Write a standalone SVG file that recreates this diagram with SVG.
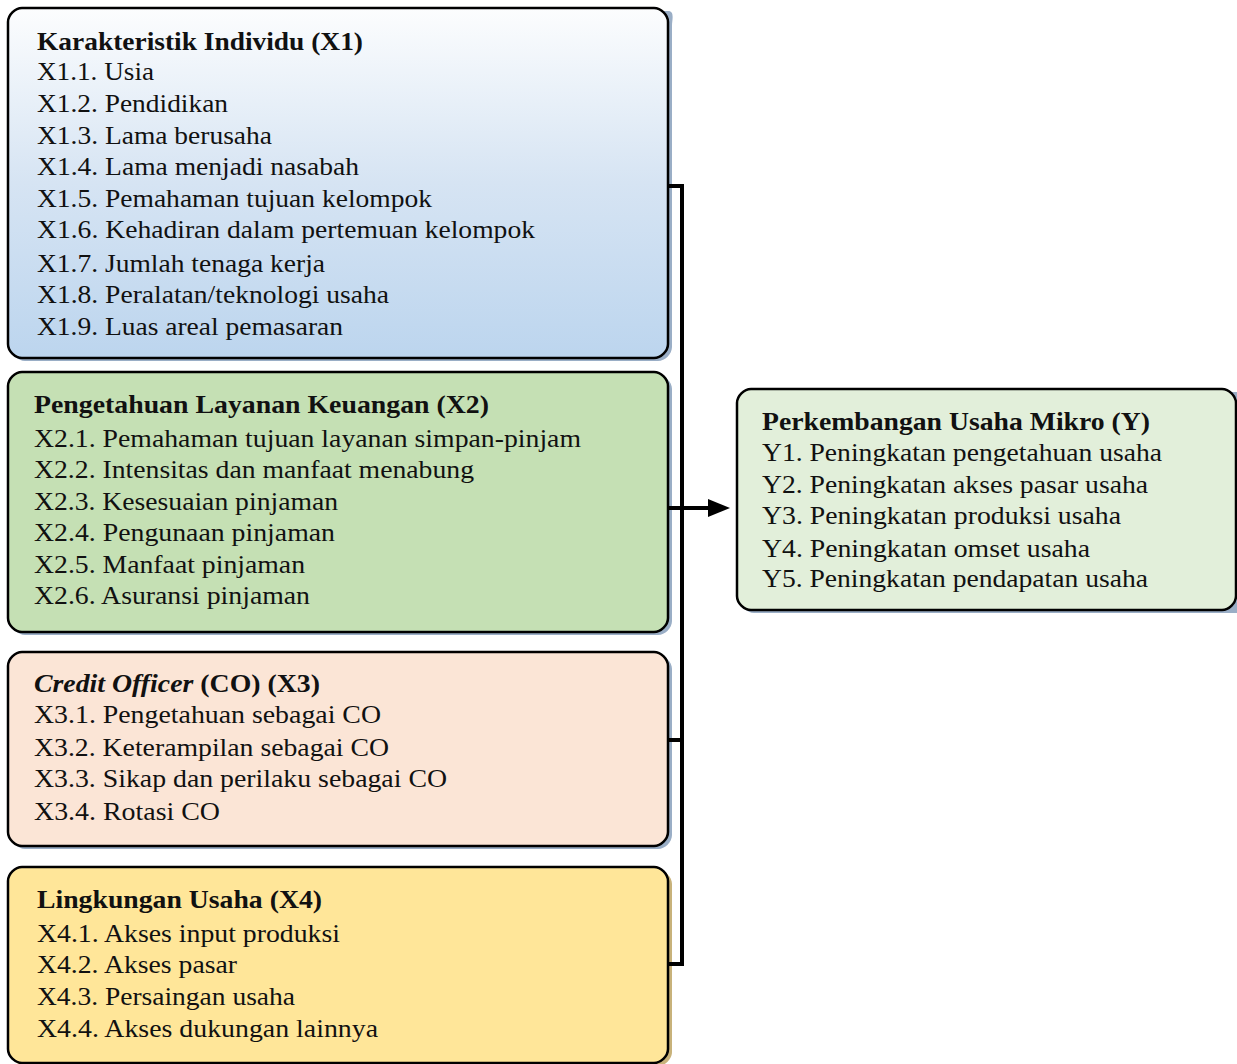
<svg xmlns="http://www.w3.org/2000/svg" width="1237" height="1064" viewBox="0 0 1237 1064">
<style>
.box{stroke:#000;stroke-width:2.5}
.sh{fill:#9aaec6}
.sh4{fill:#c8b27a}
text{font-family:'Liberation Serif','Times New Roman',Times,serif;font-size:25px;fill:#111}
.h{font-weight:bold}
.conn{stroke:#000;stroke-width:4;fill:none}
</style>
<defs>
<linearGradient id="g1" x1="0" y1="0" x2="0" y2="1">
<stop offset="0" stop-color="#fcfdfe"/>
<stop offset="0.5" stop-color="#d6e4f3"/>
<stop offset="1" stop-color="#bcd5ee"/>
</linearGradient>
</defs>
<rect width="1237" height="1064" fill="#fff"/>

<g id="node-x1" font-family="Liberation Serif, serif">
<path class="sh" d="M25,11 L668,11 C675,11 672,20 672,26 L672,347 C672,354 665,361 658,361 L25,361 C18,361 11,354 11,347 L11,26 C11,18 18,11 25,11 Z"/>
<path class="box" fill="url(#g1)" d="M22,8 L654,8 C661,8 668,15 668,22 L668,344 C668,351 661,358 654,358 L22,358 C15,358 8,351 8,344 L8,22 C8,15 15,8 22,8 Z"/>
<text class="h" x="37" y="50" textLength="326" lengthAdjust="spacingAndGlyphs">Karakteristik Individu (X1)</text>
<text x="37" y="80" textLength="117" lengthAdjust="spacingAndGlyphs">X1.1. Usia</text>
<text x="37" y="112" textLength="191" lengthAdjust="spacingAndGlyphs">X1.2. Pendidikan</text>
<text x="37" y="144" textLength="235" lengthAdjust="spacingAndGlyphs">X1.3. Lama berusaha</text>
<text x="37" y="175" textLength="322" lengthAdjust="spacingAndGlyphs">X1.4. Lama menjadi nasabah</text>
<text x="37" y="207" textLength="395" lengthAdjust="spacingAndGlyphs">X1.5. Pemahaman tujuan kelompok</text>
<text x="37" y="238" textLength="498" lengthAdjust="spacingAndGlyphs">X1.6. Kehadiran dalam pertemuan kelompok</text>
<text x="37" y="272" textLength="288" lengthAdjust="spacingAndGlyphs">X1.7. Jumlah tenaga kerja</text>
<text x="37" y="303" textLength="352" lengthAdjust="spacingAndGlyphs">X1.8. Peralatan/teknologi usaha</text>
<text x="37" y="335" textLength="306" lengthAdjust="spacingAndGlyphs">X1.9. Luas areal pemasaran</text>
</g>

<g id="node-x2">
<path class="sh" d="M25,375 L658,375 C665,375 672,382 672,389 L672,621 C672,628 665,635 658,635 L25,635 C18,635 11,628 11,621 L11,389 C11,382 18,375 25,375 Z"/>
<path class="box" fill="#c5e0b4" d="M22,372 L654,372 C661,372 668,379 668,386 L668,618 C668,625 661,632 654,632 L22,632 C15,632 8,625 8,618 L8,386 C8,379 15,372 22,372 Z"/>
<text class="h" x="34" y="413" textLength="455" lengthAdjust="spacingAndGlyphs">Pengetahuan Layanan Keuangan (X2)</text>
<text x="34" y="447" textLength="547" lengthAdjust="spacingAndGlyphs">X2.1. Pemahaman tujuan layanan simpan-pinjam</text>
<text x="34" y="478" textLength="440" lengthAdjust="spacingAndGlyphs">X2.2. Intensitas dan manfaat menabung</text>
<text x="34" y="510" textLength="304" lengthAdjust="spacingAndGlyphs">X2.3. Kesesuaian pinjaman</text>
<text x="34" y="541" textLength="301" lengthAdjust="spacingAndGlyphs">X2.4. Pengunaan pinjaman</text>
<text x="34" y="573" textLength="271" lengthAdjust="spacingAndGlyphs">X2.5. Manfaat pinjaman</text>
<text x="34" y="604" textLength="276" lengthAdjust="spacingAndGlyphs">X2.6. Asuransi pinjaman</text>
</g>

<g id="node-x3">
<path class="sh" d="M25,655 L658,655 C665,655 672,662 672,669 L672,835 C672,842 665,849 658,849 L25,849 C18,849 11,842 11,835 L11,669 C11,662 18,655 25,655 Z"/>
<path class="box" fill="#fbe5d6" d="M22,652 L654,652 C661,652 668,659 668,666 L668,832 C668,839 661,846 654,846 L22,846 C15,846 8,839 8,832 L8,666 C8,659 15,652 22,652 Z"/>
<text class="h" x="34" y="692" textLength="286" lengthAdjust="spacingAndGlyphs"><tspan font-style="italic">Credit Officer</tspan> (CO) (X3)</text>
<text x="34" y="723" textLength="347" lengthAdjust="spacingAndGlyphs">X3.1. Pengetahuan sebagai CO</text>
<text x="34" y="756" textLength="355" lengthAdjust="spacingAndGlyphs">X3.2. Keterampilan sebagai CO</text>
<text x="34" y="787" textLength="413" lengthAdjust="spacingAndGlyphs">X3.3. Sikap dan perilaku sebagai CO</text>
<text x="34" y="820" textLength="186" lengthAdjust="spacingAndGlyphs">X3.4. Rotasi CO</text>
</g>

<g id="node-x4">
<path class="sh4" d="M25,870 L658,870 C665,870 672,877 672,884 L672,1052 C672,1059 665,1066 658,1066 L25,1066 C18,1066 11,1059 11,1052 L11,884 C11,877 18,870 25,870 Z"/>
<path class="box" fill="#ffe699" d="M22,867 L654,867 C661,867 668,874 668,881 L668,1049 C668,1056 661,1063 654,1063 L22,1063 C15,1063 8,1056 8,1049 L8,881 C8,874 15,867 22,867 Z"/>
<text class="h" x="37" y="908" textLength="285" lengthAdjust="spacingAndGlyphs">Lingkungan Usaha (X4)</text>
<text x="37" y="942" textLength="303" lengthAdjust="spacingAndGlyphs">X4.1. Akses input produksi</text>
<text x="37" y="973" textLength="200" lengthAdjust="spacingAndGlyphs">X4.2. Akses pasar</text>
<text x="37" y="1005" textLength="258" lengthAdjust="spacingAndGlyphs">X4.3. Persaingan usaha</text>
<text x="37" y="1037" textLength="341" lengthAdjust="spacingAndGlyphs">X4.4. Akses dukungan lainnya</text>
</g>

<g id="node-y">
<path class="sh" d="M754,392 L1240,392 L1240,613 L754,613 C747,613 740,606 740,599 L740,406 C740,399 747,392 754,392 Z"/>
<path class="box" fill="#e2efda" d="M751,389 L1222,389 C1229,389 1236,396 1236,403 L1236,596 C1236,603 1229,610 1222,610 L751,610 C744,610 737,603 737,596 L737,403 C737,396 744,389 751,389 Z"/>
<text class="h" x="762" y="430" textLength="388" lengthAdjust="spacingAndGlyphs">Perkembangan Usaha Mikro (Y)</text>
<text x="762" y="461" textLength="400" lengthAdjust="spacingAndGlyphs">Y1. Peningkatan pengetahuan usaha</text>
<text x="762" y="493" textLength="386" lengthAdjust="spacingAndGlyphs">Y2. Peningkatan akses pasar usaha</text>
<text x="762" y="524" textLength="359" lengthAdjust="spacingAndGlyphs">Y3. Peningkatan produksi usaha</text>
<text x="762" y="557" textLength="328" lengthAdjust="spacingAndGlyphs">Y4. Peningkatan omset usaha</text>
<text x="762" y="587" textLength="386" lengthAdjust="spacingAndGlyphs">Y5. Peningkatan pendapatan usaha</text>
</g>

<g id="connectors">
<path class="conn" d="M669,186 L682,186 L682,964 L669,964"/>
<path class="conn" d="M669,740 L684,740"/>
<path class="conn" d="M669,508 L712,508"/>
<polygon points="708,499 730,508 708,517" fill="#000"/>
</g>
</svg>
